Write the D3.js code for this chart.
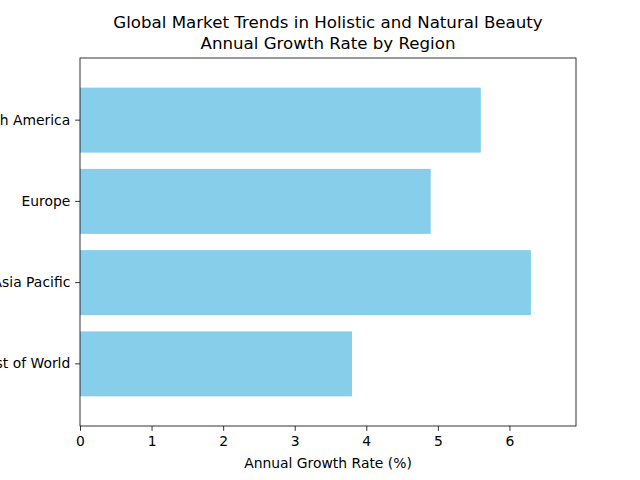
<!DOCTYPE html>
<html><head><meta charset="utf-8">
<script src="https://cdn.jsdelivr.net/npm/d3@7"></script>
<style>body{margin:0;background:#fff}svg{display:block}</style>
</head><body>
<script>
const regions = ["North America", "Europe", "Asia Pacific", "Rest of World"];
const growth = [5.6, 4.9, 6.3, 3.8];
const xTicks = [0, 1, 2, 3, 4, 5, 6];
const titleLines = ["Global Market Trends in Holistic and Natural Beauty", "Annual Growth Rate by Region"];
const xLabel = "Annual Growth Rate (%)";

const W = 640, H = 480;
const m = {left: 80, right: 576, top: 58, bottom: 426};
const svg = d3.select("body").append("svg").attr("width", W).attr("height", H)
  .style("font-family", "DejaVu Sans, sans-serif");

const x = d3.scaleLinear().domain([0, d3.max(growth) * 1.1]).range([m.left, m.right]);
const y = d3.scaleBand().domain(regions).range([m.top, m.bottom]).paddingInner(0.2).paddingOuter(0.365);

svg.append("g").selectAll("rect").data(regions).join("rect")
  .attr("x", x(0)).attr("y", d => y(d))
  .attr("width", (d, i) => x(growth[i]) - x(0))
  .attr("height", y.bandwidth())
  .attr("fill", "#87CEEB");

const xAxis = d3.axisBottom(x).tickValues(xTicks).tickFormat(d3.format("d")).tickSize(4.86).tickPadding(4.86);
const gx = svg.append("g").attr("transform", `translate(0,${m.bottom})`).call(xAxis);
const yAxis = d3.axisLeft(y).tickSize(4.86).tickPadding(4.86);
const gy = svg.append("g").attr("transform", `translate(${m.left},0)`).call(yAxis);
[gx, gy].forEach(g => {
  g.select(".domain").remove();
  g.selectAll(".tick line").attr("stroke", "#000").attr("stroke-width", 0.8);
  g.selectAll("text").attr("font-size", 13.9).attr("fill", "#000").attr("font-family", "DejaVu Sans, sans-serif");
});

svg.append("rect").attr("x", m.left).attr("y", m.top)
  .attr("width", m.right - m.left).attr("height", m.bottom - m.top)
  .attr("fill", "none").attr("stroke", "#000").attr("stroke-width", 0.8);

svg.append("text").attr("x", (m.left + m.right) / 2).attr("y", 468)
  .attr("text-anchor", "middle").attr("font-size", 13.9).text(xLabel);

svg.selectAll(".title").data(titleLines).join("text").attr("class", "title")
  .attr("x", (m.left + m.right) / 2).attr("y", (d, i) => 28 + i * 21)
  .attr("text-anchor", "middle").attr("font-size", 16.67).text(d => d);
</script>
</body></html>
